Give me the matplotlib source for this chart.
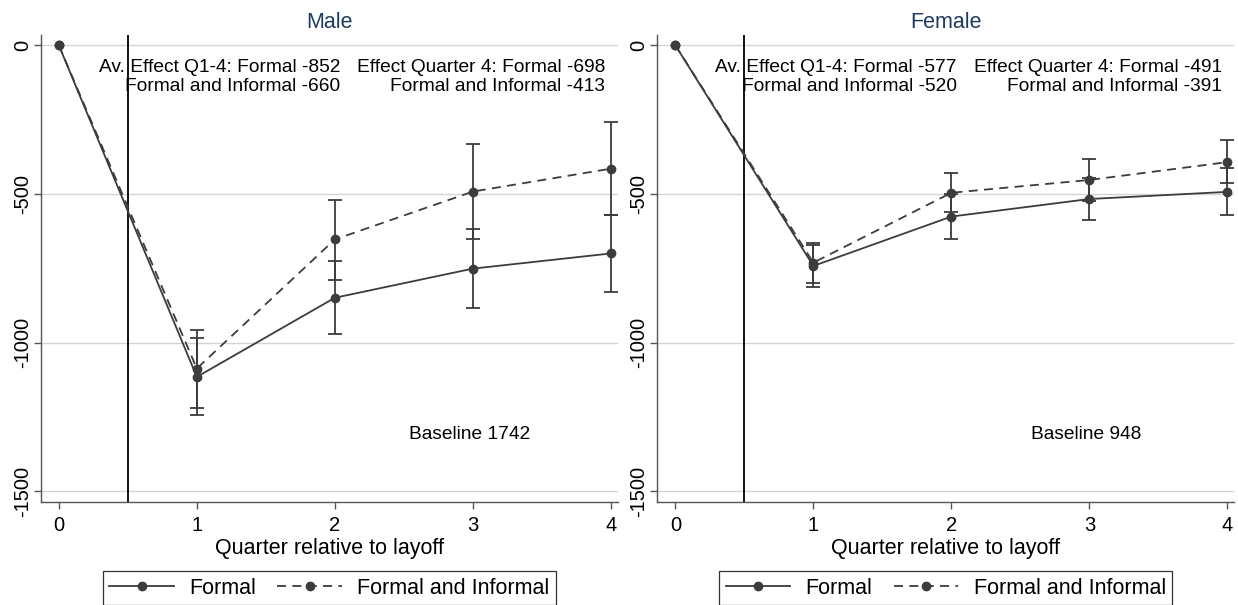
import numpy as np
import matplotlib
matplotlib.use("Agg")
import matplotlib.pyplot as plt
from matplotlib.lines import Line2D

plt.rcParams['font.family'] = ['Liberation Sans', 'DejaVu Sans']

quarters = [0, 1, 2, 3, 4]

# Male
male_formal = [0, -1115, -849, -751, -700]
male_formal_lo = [-1244, -971, -883, -829]
male_formal_hi = [-984, -725, -618, -570]
male_inf = [0, -1087, -653, -492, -415]
male_inf_lo = [-1218, -790, -651, -570]
male_inf_hi = [-958, -519, -333, -259]

# Female
female_formal = [0, -742, -576, -517, -493]
female_formal_lo = [-813, -651, -589, -572]
female_formal_hi = [-673, -501, -445, -414]
female_inf = [0, -731, -496, -453, -393]
female_inf_lo = [-800, -562, -523, -464]
female_inf_hi = [-664, -430, -383, -318]

titles = ["Male", "Female"]
notes_left = [["Av. Effect Q1-4: Formal -852", "Formal and Informal -660"],
              ["Av. Effect Q1-4: Formal -577", "Formal and Informal -520"]]
notes_right = [["Effect Quarter 4: Formal -698", "Formal and Informal -413"],
               ["Effect Quarter 4: Formal -491", "Formal and Informal -391"]]
baselines = ["Baseline 1742", "Baseline 948"]
yticks = [0, -500, -1000, -1500]

line_col = '#3c3c3c'
title_col = '#1f3b63'

fig = plt.figure(figsize=(12.38, 6.05), dpi=100)
panels = [
    (male_formal, male_formal_lo, male_formal_hi, male_inf, male_inf_lo, male_inf_hi),
    (female_formal, female_formal_lo, female_formal_hi, female_inf, female_inf_lo, female_inf_hi),
]
lefts = [0.033, 0.531]

for k, (f, flo, fhi, inf, ilo, ihi) in enumerate(panels):
    ax = fig.add_axes([lefts[k], 0.170, 0.466, 0.772])
    for yv in yticks:
        ax.axhline(yv, color='#d4d4d4', lw=1.0, zorder=0)
    ax.axvline(0.5, color='black', lw=1.3, zorder=1)

    ax.plot(quarters, f, color=line_col, lw=1.3, marker='o', ms=6, zorder=3)
    ax.plot(quarters, inf, color=line_col, lw=1.3, ls=(0, (5, 3.5)), marker='o', ms=6, zorder=3)
    q = np.array(quarters[1:])
    for lo, hi in [(flo, fhi), (ilo, ihi)]:
        mid = (np.array(lo) + np.array(hi)) / 2
        err = [mid - np.array(lo), np.array(hi) - mid]
        ax.errorbar(q, mid, yerr=err, fmt='none', ecolor=line_col, elinewidth=1.3,
                    capsize=5, capthick=1.3, zorder=2)

    ax.set_xlim(-0.13, 4.05)
    ax.set_ylim(-1536, 34)
    ax.set_xticks(quarters)
    ax.set_yticks(yticks)
    ax.set_yticklabels([str(v) for v in yticks], rotation=90, va='center')
    ax.tick_params(axis='both', labelsize=14.5, color='#555555', length=5, width=1.0)
    ax.tick_params(axis='x', pad=5)
    ax.tick_params(axis='y', pad=1.5)
    ax.spines['top'].set_visible(False)
    ax.spines['right'].set_visible(False)
    for s in ['left', 'bottom']:
        ax.spines[s].set_color('#555555')
        ax.spines[s].set_linewidth(1.0)

    ax.set_title(titles[k], fontsize=15.5, color=title_col, pad=5)
    ax.set_xlabel("Quarter relative to layoff", fontsize=15.5, labelpad=2)

    ax.text(2.04, -74, notes_left[k][0], ha='right', va='center', fontsize=13.8)
    ax.text(2.04, -138, notes_left[k][1], ha='right', va='center', fontsize=13.8)
    ax.text(3.96, -74, notes_right[k][0], ha='right', va='center', fontsize=13.8)
    ax.text(3.96, -138, notes_right[k][1], ha='right', va='center', fontsize=13.8)
    ax.text(2.98, -1307, baselines[k], ha='center', va='center', fontsize=13.8)

    handles = [
        Line2D([], [], color=line_col, lw=1.3, marker='o', ms=6),
        Line2D([], [], color=line_col, lw=1.3, ls=(0, (5, 3.5)), marker='o', ms=6),
    ]
    leg = ax.legend(handles, ["Formal", "Formal and Informal"], loc='upper center',
                    bbox_to_anchor=(0.5, -0.125), ncol=2, numpoints=1, fontsize=15.5,
                    frameon=True, fancybox=False, edgecolor='black', handlelength=3.0,
                    columnspacing=1.0, borderpad=0.3, handletextpad=0.7)
    leg.get_frame().set_linewidth(0.9)

fig.savefig("out.png", dpi=100)
